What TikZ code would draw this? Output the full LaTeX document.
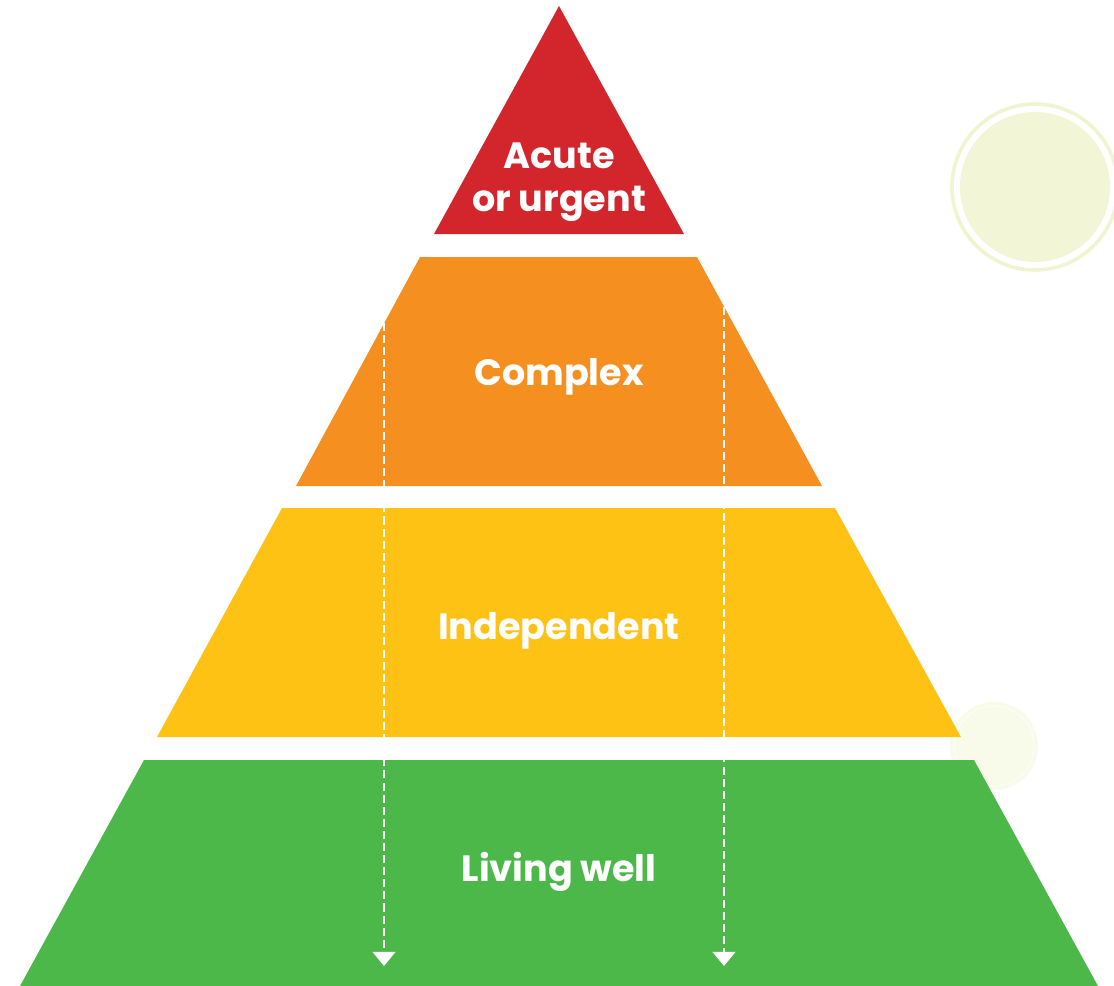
\documentclass[tikz,border=0pt]{standalone}
\usepackage{fontspec}
\setmainfont{Poppins}
\usetikzlibrary{arrows.meta,positioning}

\definecolor{acutered}{RGB}{211,38,44}
\definecolor{complexorange}{RGB}{245,144,32}
\definecolor{indepyellow}{RGB}{253,194,19}
\definecolor{livinggreen}{RGB}{77,184,74}
\definecolor{paleleaf}{RGB}{242,245,214}
\definecolor{paleleafring}{RGB}{240,244,208}
\definecolor{paledot}{RGB}{248,250,234}

\begin{document}
\begin{tikzpicture}[
    x=0.025cm, y=-0.025cm,
    % Stili
    layer/.style={draw=none},
    levellabel/.style={
        text=white, align=center, inner sep=0pt,
        font=\bfseries\fontsize{26}{31}\selectfont
    },
    flowarrow/.style={
        white, line width=1.9pt, dash pattern=on 5.7pt off 2.9pt,
        -{Triangle[width=16pt,length=10pt]}
    }
]
\useasboundingbox (0,0) rectangle (1114,986);

% Cerchi decorativi
\draw[paleleafring, line width=0.09cm] (1035,187) circle [radius=83];
\fill[paleleaf] (1035,187) circle [radius=75];
\fill[paledot] (994,746) circle [radius=44];
\draw[white, line width=0.5pt] (994,746) circle [radius=40];

% Livelli della piramide
\fill[layer, acutered] (559,6) -- (684,234) -- (434,234) -- cycle;
\fill[layer, complexorange] (420,257) -- (697,257) -- (822,486) -- (296,486) -- cycle;
\fill[layer, indepyellow] (282,508) -- (835,508) -- (961,737) -- (157,737) -- cycle;
\fill[layer, livinggreen] (144,760) -- (974,760) -- (1098,986) -- (20,986) -- cycle;

% Etichette
\node[levellabel] (acute) at (559,182) {Acute\\or urgent};
\node[levellabel] (complex) at (559,377) {Complex};
\node[levellabel] (independent) at (559,631) {Independent};
\node[levellabel] (livingwell) at (559,872) {Living well};

% Frecce tratteggiate
\coordinate (leftstart) at (384,323);
\coordinate (leftend) at (384,966);
\coordinate (rightstart) at (724,307);
\coordinate (rightend) at (724,966);

\draw[flowarrow] (leftstart) -- (leftend);
\draw[flowarrow] (rightstart) -- (rightend);

\end{tikzpicture}
\end{document}
